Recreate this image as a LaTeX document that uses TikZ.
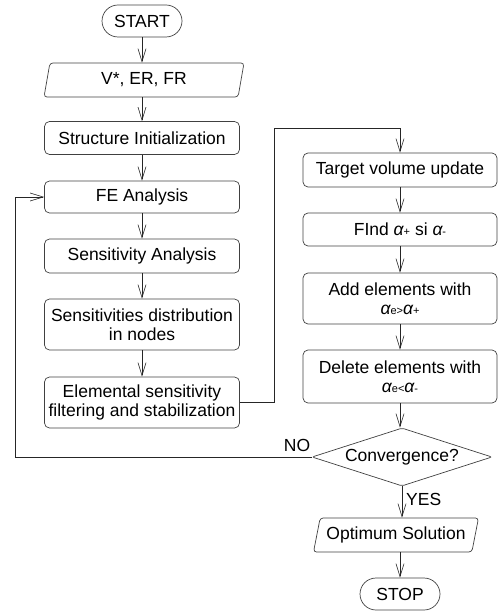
\documentclass[tikz,border=0pt]{standalone}
\usepackage{fontspec}
\setmainfont{Liberation Sans}
\usetikzlibrary{shapes.geometric,shapes.misc,arrows.meta,calc}

\newcommand{\al}{{\itshape α}}
\newcommand{\sm}[1]{{\fontsize{11}{12}\selectfont #1}}

\tikzset{
  every node/.style={font=\fontsize{17.5}{19.5}\selectfont, text=black},
  stepbox/.style={draw=black!75, line width=0.7pt, rounded corners=5pt,
    minimum width=195pt, align=center, inner sep=1pt},
  termbox/.style={draw=black!75, line width=0.7pt, rounded rectangle,
    minimum width=84pt, minimum height=32pt, inner sep=2pt},
  iobox/.style={draw=black!75, line width=0.7pt, trapezium,
    trapezium left angle=70, trapezium right angle=110,
    trapezium stretches body, rounded corners=3pt,
    minimum height=34pt, inner sep=1pt},
  testbox/.style={draw=black!75, line width=0.7pt, diamond, aspect=3.1,
    rounded corners=2pt, minimum width=180pt, minimum height=58pt,
    inner sep=0pt},
  arr/.style={draw=black!85, line width=0.6pt,
    -{Straight Barb[length=13pt,width=8pt,line width=0.6pt]}},
  tag/.style={inner sep=0pt}
}

\begin{document}
\begin{tikzpicture}[x=1pt,y=1pt]
\useasboundingbox (0,0) rectangle (498,-612);

% main column
\node[termbox] (start) at (142,-21) {START};
\node[iobox, minimum width=200pt] (input) at (144,-80) {V*, ER, FR};
\node[stepbox, minimum height=33pt] (init) at (142,-138) {Structure Initialization};
\node[stepbox, minimum height=32pt] (fe) at (142,-197) {FE Analysis};
\node[stepbox, minimum height=34pt] (sa) at (142,-256) {Sensitivity Analysis};
\node[stepbox, minimum height=51pt] (sd) at (142,-324.5) {Sensitivities distribution\\in nodes};
\node[stepbox, minimum height=51pt] (ef) at (142,-402.5) {Elemental sensitivity\\filtering and stabilization};

% update column
\node[stepbox, minimum width=194pt, minimum height=34pt] (tv) at (400,-170) {Target volume update};
\node[stepbox, minimum width=194pt, minimum height=33pt] (fa) at (400,-229.5) {FInd \al\sm{+} si \al\sm{-}};
\node[stepbox, minimum width=194pt, minimum height=51pt] (add) at (400,-298.5) {Add elements with\\\al\sm{e>}\al\sm{+}};
\node[stepbox, minimum width=194pt, minimum height=53pt] (del) at (400,-376.5) {Delete elements with\\\al\sm{e<}\al\sm{-}};
\node[testbox] (conv) at (402,-457) {Convergence?};
\node[iobox, minimum width=165pt] (opt) at (396,-535) {Optimum Solution};
\node[termbox] (stop) at (400,-594) {STOP};

% helper points for the routed lines
\coordinate (turn) at (274,-128);
\coordinate (back) at (15,-197);

% connectors
\draw[arr] (start.south) -- (start.south |- input.north);
\draw[arr] (init.north |- input.south) -- (init.north);
\draw[arr] (init) -- (fe);
\draw[arr] (fe) -- (sa);
\draw[arr] (sa) -- (sd);
\draw[arr] (sd) -- (ef);
\draw[arr] (ef.east) -| (turn) -| (tv.north);
\draw[arr] (tv) -- (fa);
\draw[arr] (fa) -- (add);
\draw[arr] (add) -- (del);
\draw[arr] (del.south) -- (del.south |- conv.north);
\draw[arr] (conv.south) -- (conv.south |- opt.north);
\draw[arr] (opt.south -| stop.north) -- (stop.north);
\draw[arr] (conv.west) -| (back) -- (fe.west);

% branch labels
\node[tag, anchor=west] (yes) at (406,-499) {YES};
\node[tag] (no) at (297,-445) {NO};
\end{tikzpicture}
\end{document}
